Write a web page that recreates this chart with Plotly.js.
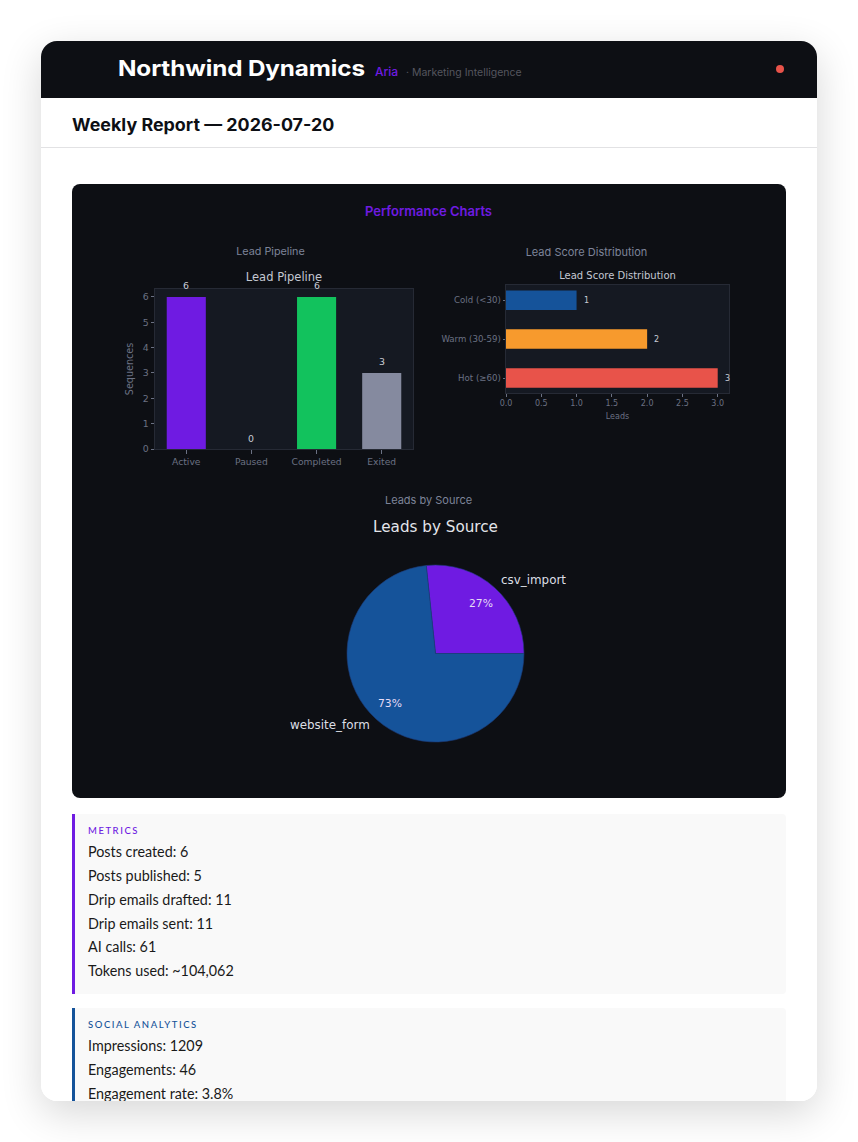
<!DOCTYPE html>
<html><head><meta charset="utf-8">
<script src="https://cdn.plot.ly/plotly-3.0.1.min.js"></script>
<style>
html,body{margin:0;padding:0;background:#fff;width:858px;height:1142px;overflow:hidden;font-family:Lato,sans-serif}
#card{position:absolute;left:41px;top:41px;width:776px;height:1060px;border-radius:16px;overflow:hidden;background:#fff}
#shadow{position:absolute;left:41px;top:41px;width:776px;height:1060px;border-radius:16px;box-shadow:0 12px 40px rgba(0,0,0,.16)}
#head{position:absolute;left:0;top:0;width:776px;height:57px;background:#0d0f14}
.abs{position:absolute;white-space:nowrap}
#sub{position:absolute;left:0;top:57px;width:776px;height:49px;border-bottom:1px solid #e2e2e4}
#panel{position:absolute;left:31px;top:143px;width:714px;height:614px;background:#0d0f14;border-radius:8px}
.cap{position:absolute;white-space:nowrap;transform:translateX(-50%);font:400 11px Inter,sans-serif;color:#7d8499}
.box{position:absolute;left:31px;width:698px;background:#f9f9f9;border-left:3px solid;border-radius:0 4px 4px 0;padding:0 0 0 13px}
.box .t{position:absolute;top:11px;left:13px;font:500 9.5px Lato,sans-serif;letter-spacing:1.55px;white-space:nowrap}
.box .l{position:absolute;left:13px;font:400 14.35px Lato,sans-serif;color:#1a1a1a;white-space:nowrap;line-height:20px}
.plot{position:absolute}
</style></head><body>
<div id="shadow"></div>
<div id="card">
 <div id="head">
  <div class="abs" style="left:77px;top:14px;font:700 21.5px/26px Inter,sans-serif;color:#fff;letter-spacing:-.1px;transform-origin:left center;transform:scaleX(1.128)">Northwind Dynamics</div>
  <div class="abs" style="left:334px;top:23px;font:500 12px/16px Inter,sans-serif;color:#6f1be2">Aria</div>
  <div class="abs" style="left:365px;top:24px;font:400 10.5px/15px Inter,sans-serif;color:#55565f">· Marketing Intelligence</div>
  <div class="abs" style="left:735px;top:24px;width:8px;height:8px;border-radius:50%;background:#e8534a"></div>
 </div>
 <div id="sub"><div class="abs" style="left:31px;top:16px;font:700 17px/22px Inter,sans-serif;color:#0d0f14;transform-origin:left center;transform:scaleX(1.052)">Weekly Report — 2026-07-20</div></div>
 <div id="panel"></div>
 <div class="abs" style="left:387.5px;top:162px;transform:translateX(-50%);font:600 13px/17px Inter,sans-serif;color:#6f1be2">Performance Charts</div>
 <div class="cap" style="left:229.5px;top:203.5px;font-size:10.8px">Lead Pipeline</div>
 <div class="cap" style="left:545.5px;top:203.5px">Lead Score Distribution</div>
 <div class="cap" style="left:387.5px;top:451.5px">Leads by Source</div>
 <div class="box" id="m" style="top:773px;height:180px;border-color:#6f1be2"><div class="t" style="color:#6f1be2">METRICS</div></div>
 <div class="box" id="s" style="top:967px;height:180px;border-color:#15539a"><div class="t" style="color:#15539a">SOCIAL ANALYTICS</div></div>
</div>
<div class="plot" id="bar" style="left:110px;top:260px;width:320px;height:215px"></div>
<div class="plot" id="hbar" style="left:430px;top:265px;width:320px;height:160px"></div>
<div class="plot" id="pie" style="left:270px;top:515px;width:320px;height:250px"></div>
<script>
const pipelineCategories=['Active','Paused','Completed','Exited'];
const pipelineValues=[6,0,6,3];
const pipelineColors=['#6f1be2','#555b6e','#12c25d','#858a9f'];
const scoreCategories=['Hot (≥60)','Warm (30-59)','Cold (<30)'];
const scoreValues=[3,2,1];
const scoreColors=['#e8534a','#f79a2d','#15539a'];
const sourceLabels=['csv_import','website_form'];
const sourceValues=[4,11];
const sourceColors=['#6f1be2','#15539a'];
const metricLines=['Posts created: 6','Posts published: 5','Drip emails drafted: 11','Drip emails sent: 11','AI calls: 61','Tokens used: ~104,062'];
const socialLines=['Impressions: 1209','Engagements: 46','Engagement rate: 3.8%'];

function fill(id,lines,tops){const b=document.getElementById(id);lines.forEach((t,i)=>{const d=document.createElement('div');d.className='l';d.textContent=t;d.style.top=tops[i]+'px';b.appendChild(d);});}
fill('m',metricLines,[28,52,76,100,123,147]);
fill('s',socialLines,[28,52,76]);

const F='"DejaVu Sans",sans-serif';
const tick='#6b7183',titleC='#c4c8d2',valC='#c9cdd6',plotBg='#151922',edge='#262a35';
const cfg={staticPlot:true,displayModeBar:false};
function ax(o){return Object.assign({showgrid:false,zeroline:false,showline:true,linecolor:edge,linewidth:1,mirror:true,ticks:'outside',ticklen:3.5,tickwidth:1,tickcolor:tick,tickfont:{family:F,size:9.4,color:tick}},o);}

Plotly.newPlot('bar',[{type:'bar',x:pipelineCategories,y:pipelineValues,width:0.6,marker:{color:pipelineColors},hoverinfo:'skip'}],{
 width:320,height:215,margin:{l:45.3,r:17,t:29.3,b:26},paper_bgcolor:'rgba(0,0,0,0)',plot_bgcolor:plotBg,showlegend:false,
 title:{text:'Lead Pipeline',font:{family:F,size:11.5,color:titleC,weight:400},x:0.5,xref:'paper',xanchor:'center',y:1-16.5/215,yref:'container',yanchor:'middle'},
 xaxis:ax({type:'category',range:[-0.48,3.48],tickfont:{family:F,size:9.2,color:tick}}),
 yaxis:ax({range:[0,6.315],tickvals:[0,1,2,3,4,5,6],title:{text:'Sequences',standoff:6.5,font:{family:F,size:9.6,color:tick}}}),
 annotations:pipelineCategories.map((c,i)=>({x:c,y:pipelineValues[i],xref:'x',yref:'y',text:String(pipelineValues[i]),showarrow:false,yanchor:'middle',yshift:11,font:{family:F,size:9.4,color:valC}}))
},cfg);

Plotly.newPlot('hbar',[{type:'bar',orientation:'h',y:scoreCategories,x:scoreValues,width:0.5,marker:{color:scoreColors},hoverinfo:'skip'}],{
 width:320,height:160,margin:{l:76.2,r:21.3,t:20.3,b:31.7},paper_bgcolor:'rgba(0,0,0,0)',plot_bgcolor:plotBg,showlegend:false,
 title:{text:'Lead Score Distribution',font:{family:F,size:10,color:titleC,weight:400},x:0.5,xref:'paper',xanchor:'center',y:1-10/160,yref:'container',yanchor:'middle'},
 xaxis:ax({range:[0,3.16],tickvals:[0,0.5,1,1.5,2,2.5,3],ticktext:['0.0','0.5','1.0','1.5','2.0','2.5','3.0'],ticklen:2.5,tickfont:{family:F,size:8,color:tick},title:{text:'Leads',standoff:5.5,font:{family:F,size:8,color:tick}}}),
 yaxis:ax({type:'category',range:[-0.385,2.39],ticklen:2.5,tickfont:{family:F,size:8.6,color:tick}}),
 annotations:scoreCategories.map((c,i)=>({x:scoreValues[i],y:c,xref:'x',yref:'y',text:String(scoreValues[i]),showarrow:false,xanchor:'center',xshift:9.5,font:{family:F,size:8,color:valC}}))
},cfg);

const total=sourceValues.reduce((a,b)=>a+b,0);
let cum=0;const pieNotes=[];
sourceLabels.forEach((lab,i)=>{
 const mid=(cum+sourceValues[i]/2)/total*2*Math.PI;cum+=sourceValues[i];
 const c=Math.cos(mid),s=Math.sin(mid);
 pieNotes.push({xref:'paper',yref:'paper',x:.5+.5*1.1*c,y:.5+.5*1.1*s,xshift:c>0?-2:2,yshift:1,text:lab,showarrow:false,xanchor:c>0?'left':'right',yanchor:'middle',font:{family:F,size:11.9,color:'#dcdfe5'}});
 pieNotes.push({xref:'paper',yref:'paper',x:.5+.5*.76*c,y:.5+.5*.76*s,text:Math.round(sourceValues[i]/total*100)+'%',showarrow:false,xanchor:'center',yanchor:'middle',font:{family:F,size:10.8,color:'#e6dcf6'}});
});
Plotly.newPlot('pie',[{type:'pie',labels:sourceLabels,values:sourceValues,sort:false,direction:'counterclockwise',rotation:90-sourceValues[0]/total*360,textinfo:'none',hoverinfo:'skip',marker:{colors:sourceColors,line:{color:'#1c3a78',width:0.6}}}],{
 width:320,height:250,margin:{l:77.2,r:65.8,t:49.8,b:23.2},paper_bgcolor:'rgba(0,0,0,0)',showlegend:false,
 title:{text:'Leads by Source',font:{family:F,size:15.2,color:'#e3e5ea',weight:400},x:0.5,xref:'paper',xanchor:'center',y:1-12/250,yref:'container',yanchor:'middle'},
 annotations:pieNotes
},cfg);
</script>
</body></html>
